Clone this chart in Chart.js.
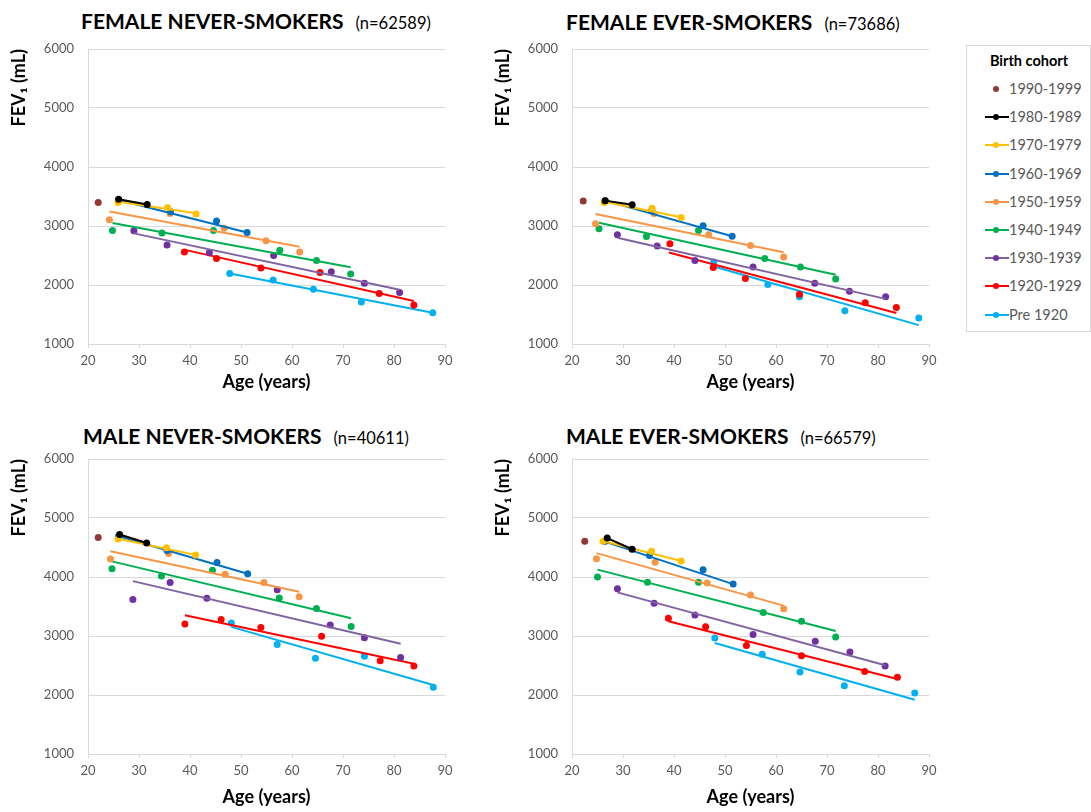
<!DOCTYPE html>
<html>
<head>
<meta charset="utf-8">
<script src="https://cdn.jsdelivr.net/npm/chart.js@4.4.1/dist/chart.umd.min.js"></script>
<style>
  body { margin: 0; background: #fff; width: 1091px; height: 812px; position: relative; overflow: hidden; font-family: Lato, sans-serif; }
  canvas { position: absolute; }
  .title { position: absolute; line-height: 24px; white-space: nowrap; color: #000; }
  .title b { font-size: 21px; }
  .title span { font-size: 16.5px; margin-left: 12px; }
  #legend { position: absolute; left: 966px; top: 45px; width: 125px; height: 287px; border: 1px solid #d9d9d9; box-sizing: border-box; }
  #legend .head { position: absolute; left: 0; width: 124px; top: 6px; text-align: center; font-weight: bold; font-size: 14.5px; }
  #legend .row { position: absolute; left: 0; height: 20px; width: 124px; }
  #legend .ln { position: absolute; left: 18px; top: 9px; width: 24px; height: 2px; }
  #legend .dot { position: absolute; left: 26px; top: 7px; width: 6px; height: 6px; border-radius: 50%; }
  #legend .txt { position: absolute; left: 42px; top: 0; line-height: 20px; font-size: 14.5px; color: #595959; }
</style>
</head>
<body>
<div class="title" style="left:81px;top:9px"><b>FEMALE NEVER-SMOKERS</b><span>(n=62589)</span></div>
<div class="title" style="left:566px;top:10px"><b>FEMALE EVER-SMOKERS</b><span>(n=73686)</span></div>
<div class="title" style="left:83px;top:424px"><b>MALE NEVER-SMOKERS</b><span>(n=40611)</span></div>
<div class="title" style="left:566px;top:424px"><b>MALE EVER-SMOKERS</b><span>(n=66579)</span></div>

<canvas id="fn" width="470" height="400" style="left:0;top:0"></canvas>
<canvas id="fe" width="470" height="400" style="left:484px;top:0"></canvas>
<canvas id="mn" width="470" height="400" style="left:0;top:410px"></canvas>
<canvas id="me" width="470" height="400" style="left:484px;top:410px"></canvas>

<div id="legend"><div class="head">Birth cohort</div></div>

<script>
const cohorts = ['1990-1999', '1980-1989', '1970-1979', '1960-1969', '1950-1959', '1940-1949', '1930-1939', '1920-1929', 'Pre 1920'];
const pointColors = ['#953735', '#000000', '#FFC000', '#0070C0', '#F79646', '#00B050', '#7030A0', '#FF0000', '#00B0F0'];
const lineColors = ['#953735', '#000000', '#FFC000', '#0070C0', '#F79646', '#00B050', '#8064A2', '#FF0000', '#00B0F0'];

// female never-smokers
const fnAge = [[22], [26, 31.6], [25.9, 35.6, 41.2], [26, 36.2, 45.2, 51.2], [24.2, 36.1, 46.7, 54.9, 61.5],
  [24.8, 34.5, 44.6, 57.6, 64.8, 71.5], [29, 35.5, 43.8, 56.4, 67.7, 74.2, 81.1], [38.9, 45.2, 53.9, 65.5, 77.1, 83.9], [47.8, 56.3, 64.2, 73.6, 87.6]];
const fnFev = [[3400], [3455, 3365], [3400, 3315, 3205], [3440, 3240, 3085, 2890], [3105, 3210, 2960, 2750, 2560],
  [2925, 2880, 2925, 2590, 2415, 2185], [2920, 2680, 2545, 2500, 2225, 2030, 1875], [2560, 2450, 2290, 2210, 1855, 1660], [2195, 2085, 1930, 1710, 1530]];
const fnTrendAge = [null, [26, 31.6], [26, 41.2], [26, 51.2], [24.2, 61.5], [24.8, 71.5], [29, 81.1], [39, 83.9], [47.8, 87.6]];
const fnTrendFev = [null, [3455, 3365], [3410, 3215], [3440, 2890], [3245, 2650], [3050, 2300], [2875, 1920], [2595, 1730], [2195, 1530]];

// female ever-smokers
const feAge = [[22.2], [26.5, 31.8], [26.3, 35.7, 41.4], [26.5, 35.6, 45.7, 51.4], [24.6, 36.1, 46.8, 55, 61.5],
  [25.3, 34.6, 44.8, 57.8, 64.8, 71.7], [28.9, 36.7, 44.1, 55.5, 67.6, 74.4, 81.5], [39.2, 47.7, 54, 64.6, 77.5, 83.6], [47.8, 58.4, 64.6, 73.5, 88]];
const feFev = [[3425], [3430, 3360], [3400, 3300, 3145], [3430, 3260, 3005, 2825], [3040, 3210, 2850, 2670, 2475],
  [2955, 2820, 2925, 2450, 2305, 2100], [2850, 2660, 2415, 2305, 2030, 1895, 1800], [2700, 2295, 2110, 1845, 1700, 1620], [2390, 2010, 1800, 1565, 1440]];
const feTrendAge = [null, [26.5, 31.8], [26.3, 41.4], [26.5, 51.4], [24.6, 61.5], [25.3, 71.7], [28.9, 81.5], [39, 83.6], [47.8, 88]];
const feTrendFev = [null, [3430, 3360], [3410, 3150], [3430, 2825], [3205, 2555], [3055, 2175], [2800, 1765], [2550, 1525], [2315, 1320]];

// male never-smokers
const mnAge = [[22], [26.2, 31.5], [25.9, 35.4, 41.1], [26, 35.5, 45.3, 51.3], [24.4, 35.8, 46.9, 54.5, 61.4],
  [24.7, 34.4, 44.4, 57.5, 64.8, 71.6], [28.8, 36.1, 43.3, 57.1, 67.5, 74.2, 81.3], [39, 46.1, 53.9, 65.8, 77.3, 83.9], [48.1, 57.1, 64.6, 74.2, 87.7]];
const mnFev = [[4670], [4720, 4575], [4645, 4495, 4375], [4690, 4450, 4245, 4055], [4305, 4400, 4045, 3905, 3665],
  [4140, 4015, 4115, 3645, 3465, 3160], [3620, 3905, 3640, 3785, 3185, 2970, 2635], [3205, 3280, 3145, 2995, 2580, 2490], [3220, 2855, 2625, 2655, 2130]];
const mnTrendAge = [null, [26.2, 31.5], [25.9, 41.1], [26, 51.3], [24.4, 61.4], [24.7, 71.6], [28.8, 81.3], [39, 83.9], [48.1, 87.7]];
const mnTrendFev = [null, [4720, 4575], [4650, 4375], [4690, 4055], [4435, 3750], [4265, 3300], [3930, 2870], [3350, 2530], [3155, 2170]];

// male ever-smokers
const meAge = [[22.5], [26.9, 31.8], [26.1, 35.6, 41.4], [26.4, 35.2, 45.7, 51.6], [24.8, 36.3, 46.5, 55, 61.5],
  [25, 34.8, 44.8, 57.5, 65, 71.7], [28.9, 36.1, 44.1, 55.5, 67.7, 74.5, 81.4], [38.9, 46.2, 54.2, 65, 77.4, 83.8], [48, 57.3, 64.7, 73.4, 87.2]];
const meFev = [[4605], [4660, 4470], [4605, 4435, 4270], [4600, 4365, 4125, 3880], [4310, 4250, 3900, 3695, 3460],
  [4000, 3910, 3910, 3400, 3250, 2985], [3800, 3555, 3355, 3025, 2910, 2730, 2490], [3300, 3155, 2840, 2665, 2400, 2300], [2965, 2690, 2390, 2155, 2035]];
const meTrendAge = [null, [26.9, 31.8], [26.1, 41.4], [26.4, 51.6], [24.8, 61.5], [25, 71.7], [28.9, 81.4], [38.9, 83.8], [48, 87.2]];
const meTrendFev = [null, [4660, 4470], [4610, 4270], [4600, 3880], [4405, 3515], [4125, 3085], [3740, 2505], [3250, 2270], [2880, 1920]];

const tickFont = { family: 'Lato', size: 13 };
const titleFont = { family: 'Lato', size: 18, weight: 'bold' };

function makePanel(id, ages, fevs, trendAges, trendFevs, xTitlePad) {
    const datasets = [];
    cohorts.forEach((name, i) => {
        if (trendAges[i]) {
            datasets.push({
                label: name + ' trend',
                data: trendAges[i].map((a, k) => ({ x: a, y: trendFevs[i][k] })),
                showLine: true, borderColor: lineColors[i], borderWidth: 2, pointRadius: 0
            });
        }
        datasets.push({
            label: name,
            data: ages[i].map((a, k) => ({ x: a, y: fevs[i][k] })),
            showLine: false, pointRadius: 3.5, pointBackgroundColor: pointColors[i], pointBorderWidth: 0
        });
    });

    new Chart(document.getElementById(id), {
        type: 'scatter',
        data: { datasets },
        options: {
            responsive: false, animation: false,
            layout: { padding: { top: 49, right: 25, left: 0, bottom: 0 } },
            plugins: { legend: { display: false }, tooltip: { enabled: false } },
            scales: {
                x: {
                    type: 'linear', min: 20, max: 90,
                    ticks: { stepSize: 10, color: '#595959', font: tickFont, padding: 5, callback: (v) => String(v) },
                    grid: { drawOnChartArea: false, drawTicks: true, tickLength: 4, color: '#d9d9d9' },
                    border: { color: '#d9d9d9' },
                    title: { display: true, text: 'Age (years)', color: '#000', font: titleFont, padding: { top: 0, bottom: xTitlePad } },
                    afterFit: (s) => { s.height = 56; }
                },
                y: {
                    min: 1000, max: 6000,
                    ticks: { stepSize: 1000, color: '#595959', font: tickFont, padding: 14, callback: (v) => String(v) },
                    grid: { color: '#d9d9d9', drawTicks: false },
                    border: { color: '#d9d9d9' },
                    title: { display: true, text: 'FEV₁ (mL)', align: 'end', color: '#000', font: titleFont, padding: { top: 8, bottom: 0 } },
                    afterFit: (s) => { s.width = 88; }
                }
            }
        }
    });
}

makePanel('fn', fnAge, fnFev, fnTrendAge, fnTrendFev, 7);
makePanel('fe', feAge, feFev, feTrendAge, feTrendFev, 7);
makePanel('mn', mnAge, mnFev, mnTrendAge, mnTrendFev, 2);
makePanel('me', meAge, meFev, meTrendAge, meTrendFev, 2);

// --- legend box ---
const legend = document.getElementById('legend');
cohorts.forEach((name, i) => {
    const row = document.createElement('div');
    row.className = 'row';
    row.style.top = (33 + i * 28.2) + 'px';
    const line = i === 0 ? '' : `<div class="ln" style="background:${lineColors[i]}"></div>`;
    row.innerHTML = line + `<div class="dot" style="background:${pointColors[i]}"></div><div class="txt">${name}</div>`;
    legend.appendChild(row);
});
</script>
</body>
</html>
